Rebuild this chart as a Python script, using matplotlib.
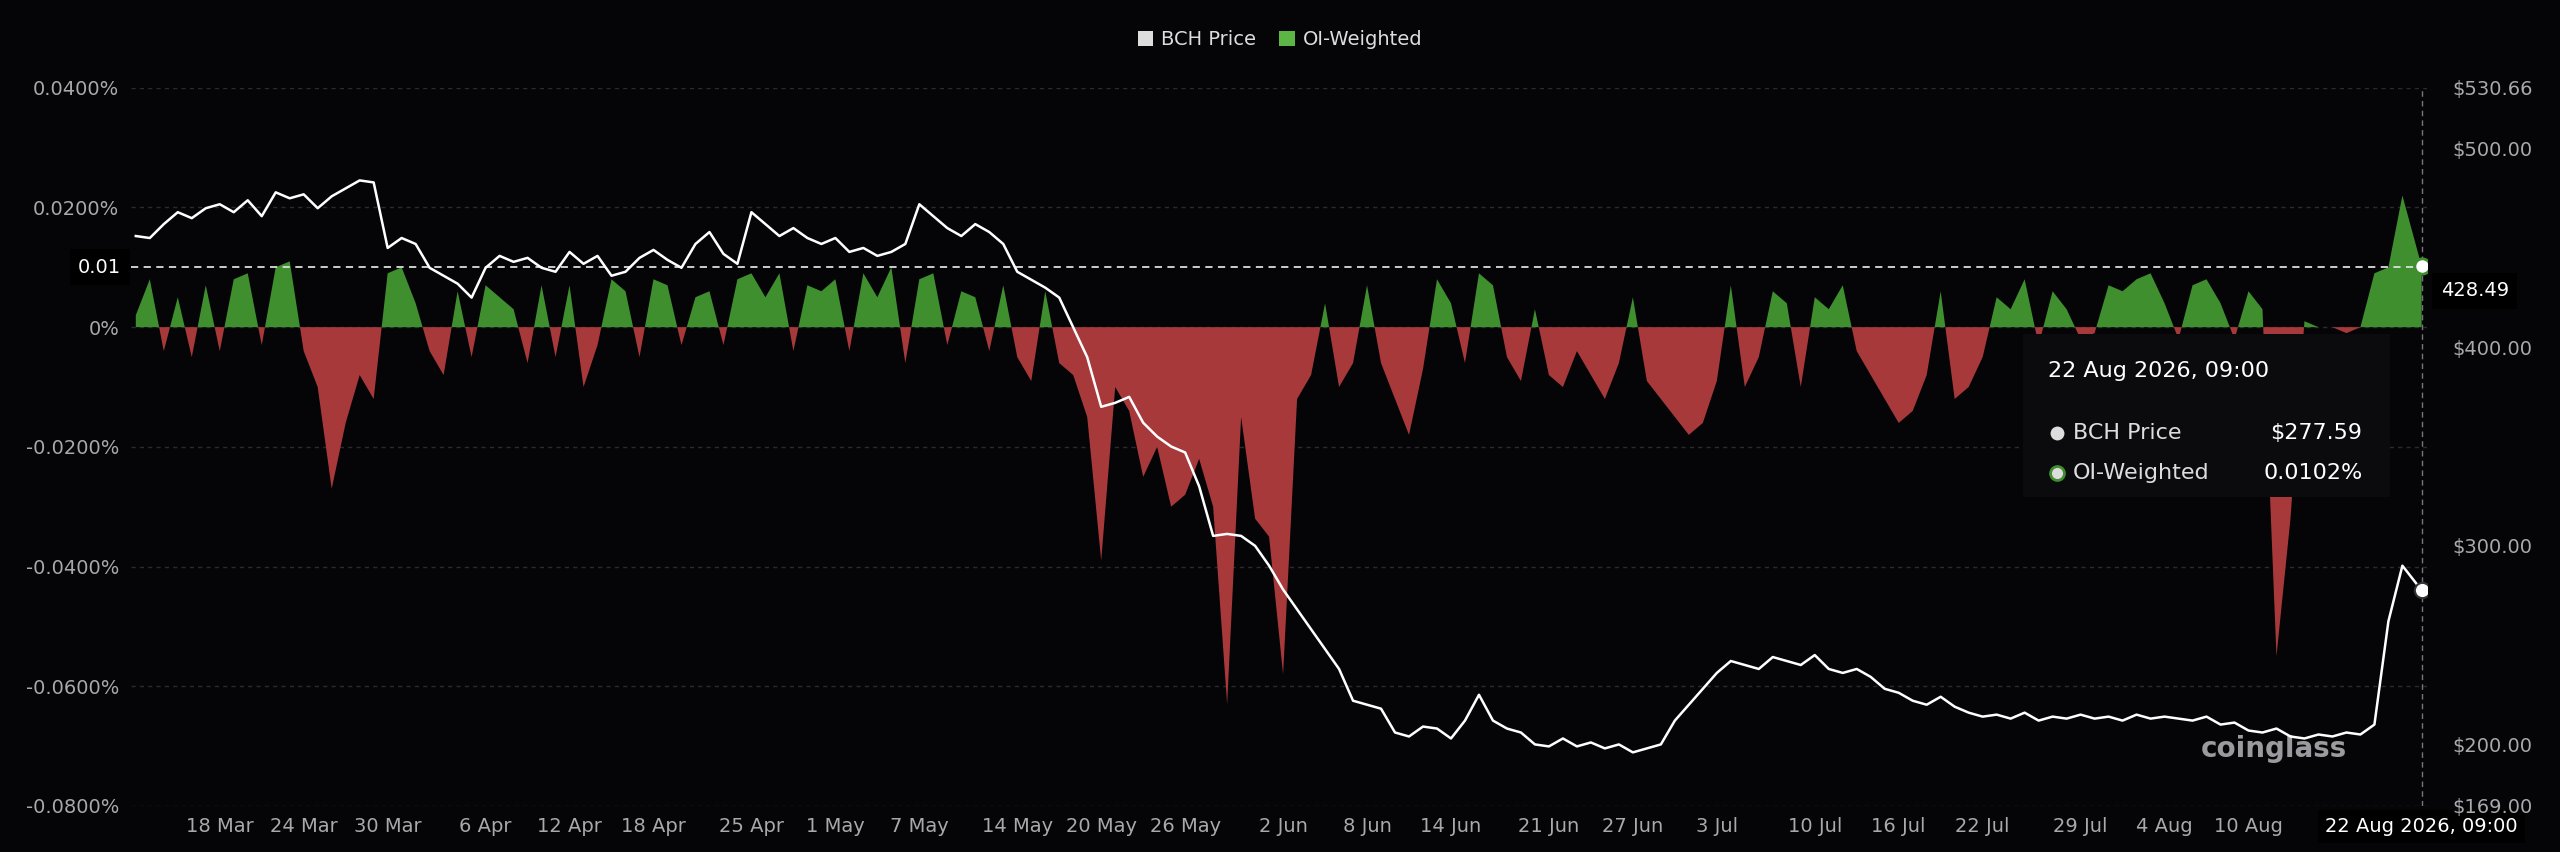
import numpy as np
import pandas as pd
import matplotlib.pyplot as plt
import matplotlib.dates as mdates
from matplotlib.patches import Rectangle

# daily values from 12 Mar 2026, last point is 22 Aug 2026 09:00
funding = [
    0.002, 0.008, -0.004, 0.005, -0.005, 0.007, -0.004,
    0.008, 0.009, -0.003, 0.010, 0.011, -0.004, -0.010,
    -0.027, -0.016, -0.008, -0.012, 0.009, 0.010, 0.004,
    -0.004, -0.008, 0.006, -0.005, 0.007, 0.005, 0.003,
    -0.006, 0.007, -0.005, 0.007, -0.010, -0.003, 0.008,
    0.006, -0.005, 0.008, 0.007, -0.003, 0.005, 0.006,
    -0.003, 0.008, 0.009, 0.005, 0.009, -0.004, 0.007,
    0.006, 0.008, -0.004, 0.009, 0.005, 0.010, -0.006,
    0.008, 0.009, -0.003, 0.006, 0.005, -0.004, 0.007,
    -0.005, -0.009, 0.006, -0.006, -0.008, -0.015, -0.039,
    -0.010, -0.014, -0.025, -0.020, -0.030, -0.028, -0.022,
    -0.030, -0.063, -0.015, -0.032, -0.035, -0.058, -0.012,
    -0.008, 0.004, -0.010, -0.006, 0.007, -0.006, -0.012,
    -0.018, -0.007, 0.008, 0.004, -0.006, 0.009, 0.007,
    -0.005, -0.009, 0.003, -0.008, -0.010, -0.004, -0.008,
    -0.012, -0.006, 0.005, -0.009, -0.012, -0.015, -0.018,
    -0.016, -0.009, 0.007, -0.010, -0.005, 0.006, 0.004,
    -0.010, 0.005, 0.003, 0.007, -0.004, -0.008, -0.012,
    -0.016, -0.014, -0.008, 0.006, -0.012, -0.010, -0.005,
    0.005, 0.003, 0.008, -0.003, 0.006, 0.003, -0.002,
    -0.001, 0.007, 0.006, 0.008, 0.009, 0.004, -0.002,
    0.007, 0.008, 0.004, -0.002, 0.006, 0.003, -0.055,
    -0.032, 0.001, 0.000, 0.000, -0.001, 0.000, 0.009,
    0.010, 0.022, 0.0102,
]
price = [
    456, 455, 462, 468, 465, 470, 472,
    468, 474, 466, 478, 475, 477, 470,
    476, 480, 484, 483, 450, 455, 452,
    440, 436, 432, 425, 440, 446, 443,
    445, 440, 438, 448, 442, 446, 436,
    438, 445, 449, 444, 440, 452, 458,
    447, 442, 468, 462, 456, 460, 455,
    452, 455, 448, 450, 446, 448, 452,
    472, 466, 460, 456, 462, 458, 452,
    438, 434, 430, 425, 410, 395, 370,
    372, 375, 362, 355, 350, 347, 330,
    305, 306, 305, 300, 290, 278, 268,
    258, 248, 238, 222, 220, 218, 206,
    204, 209, 208, 203, 212, 225, 212,
    208, 206, 200, 199, 203, 199, 201,
    198, 200, 196, 198, 200, 212, 220,
    228, 236, 242, 240, 238, 244, 242,
    240, 245, 238, 236, 238, 234, 228,
    226, 222, 220, 224, 219, 216, 214,
    215, 213, 216, 212, 214, 213, 215,
    213, 214, 212, 215, 213, 214, 213,
    212, 214, 210, 211, 207, 206, 208,
    204, 203, 205, 204, 206, 205, 210,
    262, 290, 277.59,
]
dates = list(pd.date_range("2026-03-12", periods=len(price) - 1, freq="D"))
dates.append(pd.Timestamp("2026-08-22 09:00"))
dates = pd.DatetimeIndex(dates)

tick_days = ["2026-03-18", "2026-03-24", "2026-03-30", "2026-04-06", "2026-04-12",
             "2026-04-18", "2026-04-25", "2026-05-01", "2026-05-07", "2026-05-14",
             "2026-05-20", "2026-05-26", "2026-06-02", "2026-06-08", "2026-06-14",
             "2026-06-21", "2026-06-27", "2026-07-03", "2026-07-10", "2026-07-16",
             "2026-07-22", "2026-07-29", "2026-08-04", "2026-08-10"]
left_ticks = [0.04, 0.02, 0, -0.02, -0.04, -0.06, -0.08]
right_ticks = [530.66, 500, 400, 300, 200, 169.0]

bg = "#050508"
green = "#3f8f2f"
red = "#a8393b"
txt = "#a8a8ad"

fig = plt.figure(figsize=(25.6, 8.52), dpi=100, facecolor=bg)
ax = fig.add_axes([0.051, 0.054, 0.897, 0.843], facecolor=bg)
f = np.array(funding)
ax.fill_between(dates, f, 0, where=f >= 0, interpolate=True, color=green, lw=0)
ax.fill_between(dates, f, 0, where=f <= 0, interpolate=True, color=red, lw=0)
ax.set_ylim(-0.08, 0.04)
ax.set_xlim(pd.Timestamp("2026-03-11 15:00"), pd.Timestamp("2026-08-22 18:00"))
ax.set_yticks(left_ticks)
ax.set_yticklabels(["0%" if v == 0 else f"{v:.4f}%" for v in left_ticks])
for v in left_ticks:
    ax.axhline(v, color="#2a2a30", lw=1, ls=(0, (3, 3)), zorder=0)
ax.axhline(0.01, color="#dddddd", lw=1.3, ls=(0, (4, 3)))
ax.set_xticks(pd.to_datetime(tick_days))
ax.xaxis.set_major_formatter(mdates.DateFormatter("%-d %b"))
ax.tick_params(colors=txt, labelsize=14, length=0, pad=8)
for s in ax.spines.values():
    s.set_visible(False)

ax2 = ax.twinx()
ax2.plot(dates, price, color="white", lw=1.8)
ax2.set_ylim(169, 530.66)
ax2.set_yticks(right_ticks)
ax2.set_yticklabels([f"${v:.2f}" for v in right_ticks])
ax2.tick_params(colors=txt, labelsize=14, length=0, pad=18)
for s in ax2.spines.values():
    s.set_visible(False)

# hover elements
ax.axvline(dates[-1], color="#777777", lw=1, ls=(0, (4, 3)))
ax2.plot(dates[-1], price[-1], "o", ms=11, mfc="white", mec="#333333", mew=1.5, zorder=5)
ax.plot(dates[-1], funding[-1], "o", ms=11, mfc="white", mec=green, mew=2, zorder=5)
ax.text(-0.004, 0.01, "0.01", transform=ax.get_yaxis_transform(), ha="right", va="center",
        color="white", fontsize=14, bbox=dict(fc="black", ec="none", pad=6))
ax2.text(1.006, 428.49, "428.49", transform=ax2.get_yaxis_transform(), ha="left", va="center",
         color="white", fontsize=14, bbox=dict(fc="black", ec="none", pad=6))
ax.text(dates[-1], -0.0835, "22 Aug 2026, 09:00", ha="center", va="center", color="white",
        fontsize=14, bbox=dict(fc="black", ec="none", pad=5))

# tooltip drawn on a top-level overlay axes so it covers both series
tax = fig.add_axes(ax.get_position(), facecolor="none", zorder=10)
tax.set_axis_off()
tax.set_xlim(0, 1)
tax.set_ylim(0, 1)
tax.add_patch(Rectangle((0.824, 0.43), 0.16, 0.227, fc="#0b0b0e", ec="none"))
tax.text(0.835, 0.605, "22 Aug 2026, 09:00", color="white", fontsize=16, va="center")
tax.plot(0.839, 0.52, "o", ms=10, mfc="#dddddd", mec="none")
tax.text(0.846, 0.52, "BCH Price", color="#dddddd", fontsize=16, va="center")
tax.text(0.972, 0.52, "$277.59", color="white", fontsize=16, va="center", ha="right")
tax.plot(0.839, 0.464, "o", ms=10, mfc="#dddddd", mec=green, mew=2)
tax.text(0.846, 0.464, "OI-Weighted", color="#dddddd", fontsize=16, va="center")
tax.text(0.972, 0.464, "0.0102%", color="white", fontsize=16, va="center", ha="right")

ax.text(0.965, 0.08, "coinglass", transform=ax.transAxes, color="#9a9a9f", fontsize=20,
        ha="right", va="center", fontweight="bold")

h1 = plt.Rectangle((0, 0), 1, 1, fc="#dddddd")
h2 = plt.Rectangle((0, 0), 1, 1, fc="#5cb646")
fig.legend([h1, h2], ["BCH Price", "OI-Weighted"], loc="upper center", bbox_to_anchor=(0.5, 0.985),
           ncol=2, frameon=False, labelcolor="#dddddd", fontsize=14, handlelength=0.8,
           handleheight=0.8, columnspacing=1.2, handletextpad=0.4)

fig.savefig("out.png", dpi=100, facecolor=bg)
